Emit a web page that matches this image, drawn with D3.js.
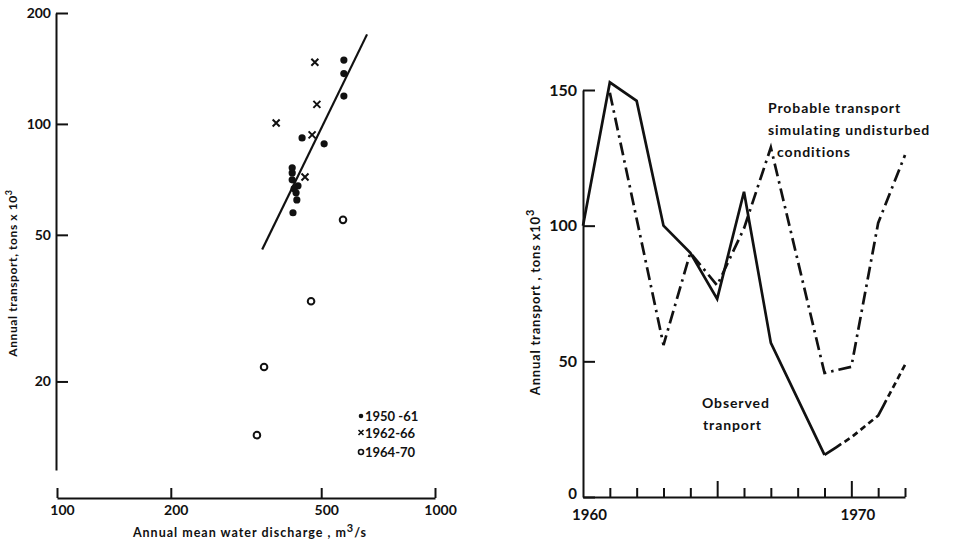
<!DOCTYPE html>
<html>
<head>
<meta charset="utf-8">
<script src="https://cdn.jsdelivr.net/npm/d3@7"></script>
<style>
  body { margin: 0; background: #fff; }
  svg { display: block; font-family: Lato, 'Open Sans', sans-serif; font-weight: bold; }
</style>
</head>
<body>
<svg id="chart" width="969" height="541"></svg>
<script>
// ---- left panel: discharge vs transport (log-log) ----
// [discharge m3/s, transport tons x10^3]
const dots1950 = [[574, 149], [574, 137], [574, 119], [445, 91.6], [509, 88.3], [419, 76], [419, 73.6],
  [419, 70.5], [434, 67.9], [424, 66.7], [429, 65], [431, 62.2], [421, 57.4]]
const crosses1962 = [[481, 147], [487, 113], [380, 100.6], [473, 93.4], [453, 71.8]]
const circles1964 = [[571, 54.9], [470, 33], [353, 21.9], [338, 14.3]]
const fitLine = [[349, 45.6], [661, 175]]
const leftXTicks = [100, 200, 500, 1000]
const leftYTicks = [20, 50, 100, 200]

// ---- right panel: time series ----
const observedYears = [1960, 1961, 1962, 1963, 1964, 1965, 1966, 1967, 1969]
const observed = [100, 152.8, 146, 100, 90, 73, 112.5, 56.8, 15.5]
const observedEstYears = [1969, 1970, 1971, 1972]
const observedEst = [15.5, 22, 30, 48.7]
const probableYears = [1961, 1963, 1964, 1965, 1966, 1967, 1969, 1970, 1971, 1972]
const probable = [149, 56, 90, 78, 99, 128.8, 45.7, 48, 101, 126]
const rightYTicks = [0, 50, 100, 150]
const yearTicks = [1961, 1962, 1963, 1964, 1965, 1966, 1967, 1968, 1969, 1970, 1971, 1972]
const yearLabels = [1960, 1970]
const majorYears = [1965, 1970]

const svg = d3.select('#chart')
const ink = '#111'

function styleAxis(g) {
  g.selectAll('path.domain').attr('stroke', ink).attr('stroke-width', 2)
  g.selectAll('.tick line').attr('stroke', ink).attr('stroke-width', 2)
  g.selectAll('.tick text').attr('fill', ink).style('font-family', 'Lato, sans-serif').style('font-weight', 'bold')
}

// ===== left chart =====
const xL = d3.scaleLog().domain([100, 1000]).range([57, 435])
const yL = d3.scaleLog().domain([11.5, 200]).range([470, 13])
const left = svg.append('g')

left.append('g')
  .attr('transform', 'translate(0, 498)')
  .call(d3.axisBottom(xL).tickValues(leftXTicks).tickFormat(d3.format('d'))
    .tickSize(-10).tickSizeOuter(0).tickPadding(7))
  .call(styleAxis)
  .call(g => g.selectAll('.tick text').style('font-size', '14px').attr('dx', 5))

left.append('g')
  .attr('transform', 'translate(56, 0)')
  .call(d3.axisLeft(yL).tickValues(leftYTicks).tickFormat(d3.format('d'))
    .tickSize(-12).tickSizeOuter(0).tickPadding(5))
  .call(styleAxis)
  .call(g => g.selectAll('.tick text').style('font-size', '14px'))

left.append('line')
  .attr('x1', xL(fitLine[0][0])).attr('y1', yL(fitLine[0][1]))
  .attr('x2', xL(fitLine[1][0])).attr('y2', yL(fitLine[1][1]))
  .attr('stroke', ink).attr('stroke-width', 2.2)

left.selectAll('circle.dot').data(dots1950).enter()
  .append('circle').classed('dot', true)
  .attr('cx', d => xL(d[0])).attr('cy', d => yL(d[1]))
  .attr('r', 3.6).attr('fill', ink)

left.selectAll('path.cross').data(crosses1962).enter()
  .append('path').classed('cross', true)
  .attr('transform', d => `translate(${xL(d[0])}, ${yL(d[1])})`)
  .attr('d', 'M-3.5,-3.5L3.5,3.5M-3.5,3.5L3.5,-3.5')
  .attr('stroke', ink).attr('stroke-width', 2)

left.selectAll('circle.open').data(circles1964).enter()
  .append('circle').classed('open', true)
  .attr('cx', d => xL(d[0])).attr('cy', d => yL(d[1]))
  .attr('r', 3.3).attr('fill', 'none').attr('stroke', ink).attr('stroke-width', 2)

// legend
const leg = left.append('g').attr('transform', 'translate(361, 0)').style('font-size', '13px').attr('fill', ink)
leg.append('circle').attr('cx', 0).attr('cy', 416).attr('r', 2.3).attr('fill', ink)
leg.append('text').attr('x', 4).attr('y', 421).text('1950 -61')
leg.append('path').attr('d', 'M-2.5,430L2.5,435M-2.5,435L2.5,430').attr('stroke', ink).attr('stroke-width', 1.6)
leg.append('text').attr('x', 4).attr('y', 438).text('1962-66')
leg.append('circle').attr('cx', 0).attr('cy', 452).attr('r', 2.5).attr('fill', 'none').attr('stroke', ink).attr('stroke-width', 1.6)
leg.append('text').attr('x', 4).attr('y', 457).text('1964-70')

const xLab = left.append('text')
  .attr('x', 250).attr('y', 537).attr('text-anchor', 'middle')
  .style('font-size', '12.5px').style('letter-spacing', '1px').attr('fill', ink)
xLab.append('tspan').text('Annual mean water discharge , m')
xLab.append('tspan').attr('dy', -5).style('font-size', '11px').text('3')
xLab.append('tspan').attr('dy', 5).text('/s')

const yLabL = left.append('text')
  .attr('transform', 'translate(17, 273) rotate(-90)').attr('text-anchor', 'middle')
  .style('font-size', '12px').style('letter-spacing', '0.6px').attr('fill', ink)
yLabL.append('tspan').text('Annual transport, tons x 10')
yLabL.append('tspan').attr('dy', -5).style('font-size', '9px').text('3')

// ===== right chart =====
const xR = d3.scaleLinear().domain([1960, 1972]).range([583, 905])
const yR = d3.scaleLinear().domain([0, 150]).range([497, 90])
const right = svg.append('g')

// minor year ticks
right.append('g')
  .attr('transform', 'translate(0, 497)')
  .call(d3.axisBottom(xR).tickValues(yearTicks).tickFormat('')
    .tickSize(-9).tickSizeOuter(0))
  .call(styleAxis)
  .call(g => g.selectAll('.tick line').attr('y2', d => majorYears.includes(d) ? -16 : -9))

// year labels
right.append('g')
  .attr('transform', 'translate(0, 497)')
  .call(d3.axisBottom(xR).tickValues(yearLabels).tickFormat(d3.format('d'))
    .tickSize(0).tickSizeOuter(0).tickPadding(12))
  .call(styleAxis)
  .call(g => g.select('path.domain').remove())
  .call(g => g.selectAll('.tick text').style('font-size', '15px').attr('dx', 6))

right.append('g')
  .attr('transform', 'translate(583, 0)')
  .call(d3.axisLeft(yR).tickValues(rightYTicks)
    .tickSize(-12).tickSizeOuter(0).tickPadding(6))
  .call(styleAxis)
  .call(g => g.selectAll('.tick text').style('font-size', '16px'))
  .call(g => g.selectAll('.tick text').filter(d => d === 0).attr('dy', '0.1em').style('font-size', '15px'))

const line = d3.line().x(d => xR(d[0])).y(d => yR(d[1]))

right.append('path')
  .attr('d', line(d3.zip(probableYears, probable)))
  .attr('fill', 'none').attr('stroke', ink).attr('stroke-width', 2.7)
  .attr('stroke-dasharray', '13,5,2.5,5')

right.append('path')
  .attr('d', line(d3.zip(observedYears, observed)))
  .attr('fill', 'none').attr('stroke', ink).attr('stroke-width', 2.7)
  .attr('stroke-linejoin', 'miter')

right.append('path')
  .attr('d', line(d3.zip(observedEstYears, observedEst)))
  .attr('fill', 'none').attr('stroke', ink).attr('stroke-width', 2.7)
  .attr('stroke-dasharray', '14,0,6,4,6,4,6,4,6,4,6,4')

const note = right.append('g').style('font-size', '14px').style('letter-spacing', '0.9px').attr('fill', ink)
note.append('text').attr('x', 768).attr('y', 113).text('Probable transport')
note.append('text').attr('x', 768).attr('y', 135).text('simulating undisturbed')
note.append('text').attr('x', 777).attr('y', 157).text('conditions')
note.append('text').attr('x', 702).attr('y', 408).text('Observed')
note.append('text').attr('x', 703).attr('y', 430).text('tranport')

const yLabR = right.append('text')
  .attr('transform', 'translate(540, 302) rotate(-90)').attr('text-anchor', 'middle')
  .style('font-size', '13px').style('letter-spacing', '0.8px').attr('fill', ink)
yLabR.append('tspan').text('Annual transport , tons  x10')
yLabR.append('tspan').attr('dy', -6).style('font-size', '11px').text('3')
</script>
</body>
</html>
